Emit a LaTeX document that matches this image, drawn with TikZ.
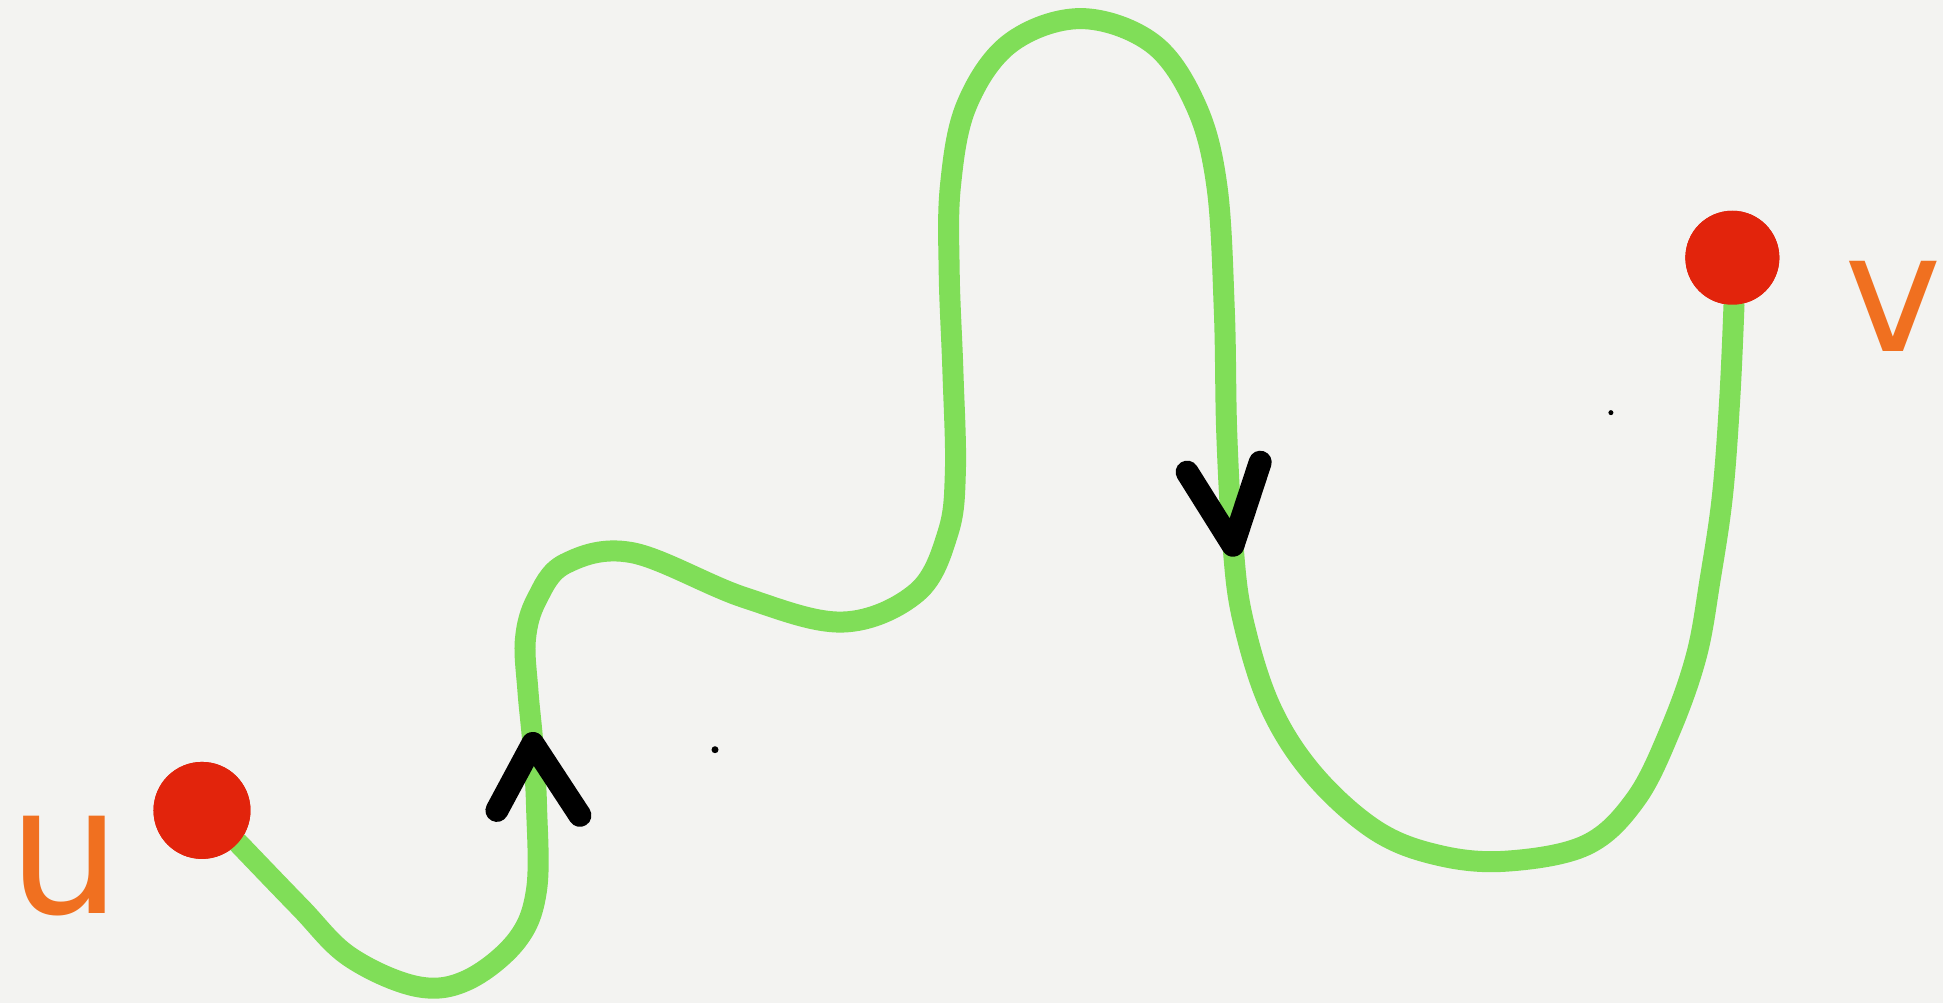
\documentclass[tikz,border=0pt]{standalone}
\usepackage{fontspec}
\newfontfamily\labfont{DejaVu Sans}
\definecolor{paper}{RGB}{243,243,241}
\definecolor{pathgreen}{RGB}{128,222,88}
\definecolor{dotred}{RGB}{226,36,12}
\definecolor{labelorange}{RGB}{240,112,32}
\tikzset{
  greenline/.style={draw=pathgreen, line width=21pt, line cap=round, line join=round},
  vertexdot/.style={circle, fill=dotred, inner sep=0pt, minimum size=#1},
  vlabel/.style={text=labelorange, font=\labfont\fontsize{#1}{#1}\selectfont, inner sep=0pt},
  chevron/.style={draw=black, line width=23pt, line cap=round, line join=round},
  speck/.style={circle, fill=black, inner sep=0pt, minimum size=7pt}
}
\begin{document}
\begin{tikzpicture}[x=1.23916pt, y=-1.23916pt]
\fill[paper] (0,0) rectangle (1568,809.4);
\useasboundingbox (0,0) rectangle (1568,809.4);
% vertices
\node[vertexdot=97pt] (u) at (163,654) {};
\node[vertexdot=94pt] (v) at (1398,208) {};
\node[vlabel=178] (ulab) at (52,698) {u};
\node[vlabel=165] (vlab) at (1528,247) {v};
% path
\coordinate (a1) at (430,600);
\coordinate (a2) at (995,440);
\draw[greenline] plot[smooth, tension=0.6] coordinates {
 (u.-42) (242,732) (282,772) (336,796) (377,791)
 (417,759) (433,718) (433,651) (a1) (426,557) (424,516)
 (433,484) (456,455) (510,446) (600,482) (680,502) (740,478)
 (765,430) (771,380) (769,300) (766,220) (767,150) (780,85)
 (815,35) (872,15) (930,35) (965,85) (982,150) (988,250) (990,350)
 (a2) (1003,500) (1025,570) (1060,625) (1110,670) (1160,690)
 (1215,695) (1280,682) (1320,645) (1348,589) (1369,529) (1380,468)
 (1390,400) (1396,320) (v.-88)};
% dots on top
\fill[dotred] (u) circle[radius=48.5pt];
\fill[dotred] (v) circle[radius=47pt];
% arrowheads
\draw[chevron] (401,654) -- (a1) -- (468,658);
\draw[chevron] (958,381) -- (a2) -- (1017,373);
% specks
\node[speck] (s1) at (577,605) {};
\node[speck, minimum size=5pt] (s2) at (1300,333) {};
\end{tikzpicture}
\end{document}
